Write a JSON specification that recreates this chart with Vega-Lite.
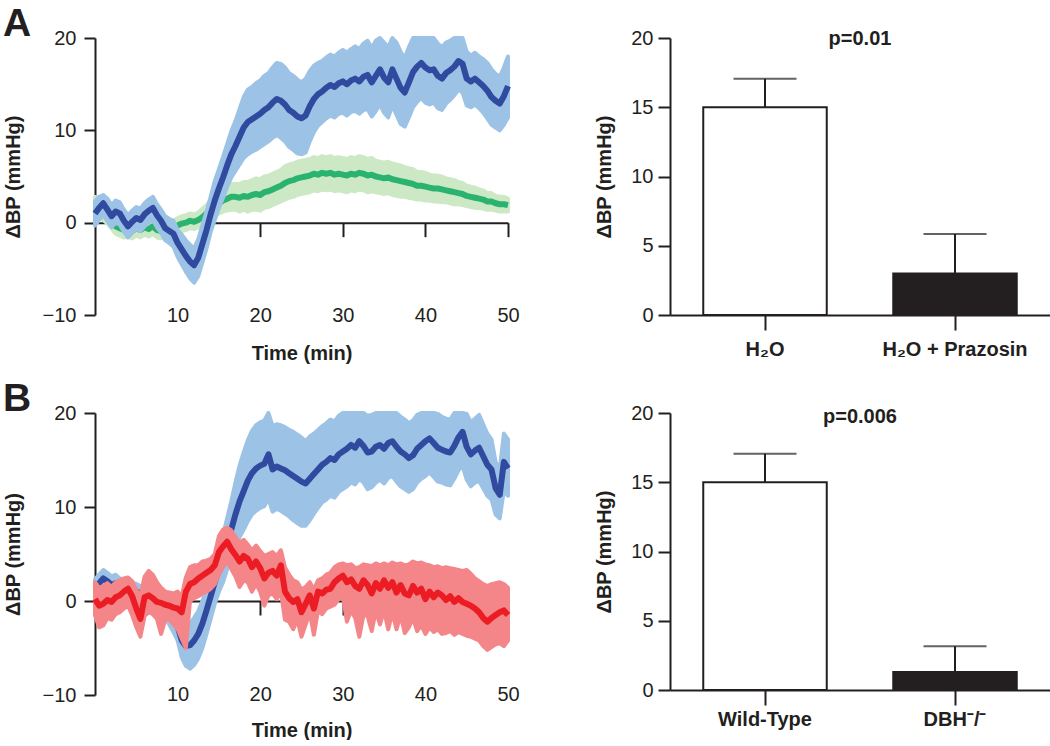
{
"$schema":"https://vega.github.io/schema/vega-lite/v6.json",
"background":"white",
"padding":{"left":3,"top":5,"right":0,"bottom":0},
"bounds":"flush",
"columns":2,
"spacing":{"row":98,"column":162},
"config":{
 "view":{"stroke":null},
 "font":"Liberation Sans",
 "axis":{"grid":false,"domainColor":"#231f20","domainWidth":2,"tickColor":"#231f20","tickWidth":2,"labelFont":"Liberation Sans","labelFontSize":20,"labelColor":"#231f20","titleFont":"Liberation Sans","titleFontSize":20,"titleFontWeight":"bold","titleColor":"#231f20","labelFlush":false},
 "title":{"font":"Liberation Sans","color":"#231f20"}
},
"datasets":{
"tsA":[
{"s":"b","t":0,"m":1.0,"lo":-0.3,"hi":2.3},{"s":"b","t":0.5,"m":1.6,"lo":0.3,"hi":2.8},{"s":"b","t":1,"m":2.1,"lo":0.8,"hi":3.0},{"s":"b","t":1.5,"m":1.4,"lo":0.2,"hi":2.6},{"s":"b","t":2,"m":0.7,"lo":-0.5,"hi":1.9},{"s":"b","t":2.5,"m":1.2,"lo":0.0,"hi":2.4},{"s":"b","t":3,"m":1.0,"lo":-0.2,"hi":2.2},{"s":"b","t":3.5,"m":0.2,"lo":-1.0,"hi":1.4},{"s":"b","t":4,"m":-0.4,"lo":-1.6,"hi":0.8},{"s":"b","t":4.5,"m":0.1,"lo":-1.1,"hi":1.3},{"s":"b","t":5,"m":0.5,"lo":-0.7,"hi":1.7},{"s":"b","t":5.5,"m":0.3,"lo":-0.9,"hi":1.5},{"s":"b","t":6,"m":0.9,"lo":-0.4,"hi":2.1},{"s":"b","t":6.5,"m":1.3,"lo":0.0,"hi":2.5},{"s":"b","t":7,"m":1.6,"lo":0.3,"hi":2.8},{"s":"b","t":7.5,"m":0.8,"lo":-0.5,"hi":2.0},{"s":"b","t":8,"m":0.2,"lo":-1.1,"hi":1.4},{"s":"b","t":8.5,"m":-0.6,"lo":-1.9,"hi":0.7},{"s":"b","t":9,"m":-0.9,"lo":-2.2,"hi":0.4},{"s":"b","t":9.5,"m":-1.2,"lo":-2.6,"hi":0.2},{"s":"b","t":10,"m":-2.2,"lo":-3.7,"hi":-0.8},{"s":"b","t":10.5,"m":-2.9,"lo":-4.5,"hi":-1.3},{"s":"b","t":11,"m":-3.6,"lo":-5.3,"hi":-1.9},{"s":"b","t":11.5,"m":-4.2,"lo":-6.0,"hi":-2.4},{"s":"b","t":12,"m":-4.6,"lo":-6.5,"hi":-2.8},{"s":"b","t":12.5,"m":-3.8,"lo":-5.8,"hi":-1.8},{"s":"b","t":13,"m":-2.3,"lo":-4.3,"hi":-0.3},{"s":"b","t":13.5,"m":-0.8,"lo":-2.8,"hi":1.2},{"s":"b","t":14,"m":0.9,"lo":-1.0,"hi":2.8},{"s":"b","t":14.5,"m":2.4,"lo":0.3,"hi":4.5},{"s":"b","t":15,"m":3.7,"lo":1.6,"hi":5.8},{"s":"b","t":15.5,"m":4.9,"lo":2.7,"hi":7.1},{"s":"b","t":16,"m":6.2,"lo":3.9,"hi":8.5},{"s":"b","t":16.5,"m":7.4,"lo":4.9,"hi":9.9},{"s":"b","t":17,"m":8.3,"lo":5.6,"hi":11.0},{"s":"b","t":17.5,"m":9.3,"lo":6.3,"hi":12.3},{"s":"b","t":18,"m":10.3,"lo":7.0,"hi":13.6},{"s":"b","t":18.5,"m":10.9,"lo":7.4,"hi":14.4},{"s":"b","t":19,"m":11.2,"lo":7.7,"hi":14.7},{"s":"b","t":19.5,"m":11.5,"lo":7.9,"hi":15.1},{"s":"b","t":20,"m":11.8,"lo":8.2,"hi":15.4},{"s":"b","t":20.5,"m":12.2,"lo":8.5,"hi":15.9},{"s":"b","t":21,"m":12.5,"lo":8.8,"hi":16.2},{"s":"b","t":21.5,"m":13.0,"lo":9.2,"hi":16.8},{"s":"b","t":22,"m":13.4,"lo":9.5,"hi":17.3},{"s":"b","t":22.5,"m":13.2,"lo":9.2,"hi":17.2},{"s":"b","t":23,"m":12.8,"lo":8.8,"hi":16.8},{"s":"b","t":23.5,"m":12.2,"lo":8.2,"hi":16.2},{"s":"b","t":24,"m":11.9,"lo":7.9,"hi":15.9},{"s":"b","t":24.5,"m":11.5,"lo":7.5,"hi":15.5},{"s":"b","t":25,"m":11.3,"lo":7.4,"hi":15.2},{"s":"b","t":25.5,"m":11.6,"lo":7.6,"hi":15.6},{"s":"b","t":26,"m":12.6,"lo":8.8,"hi":16.4},{"s":"b","t":26.5,"m":13.4,"lo":9.8,"hi":17.0},{"s":"b","t":27,"m":13.9,"lo":10.5,"hi":17.3},{"s":"b","t":27.5,"m":14.2,"lo":10.9,"hi":17.5},{"s":"b","t":28,"m":14.6,"lo":11.3,"hi":17.9},{"s":"b","t":28.5,"m":14.9,"lo":11.6,"hi":18.2},{"s":"b","t":29,"m":14.7,"lo":11.4,"hi":18.0},{"s":"b","t":29.5,"m":15.1,"lo":11.8,"hi":18.4},{"s":"b","t":30,"m":15.3,"lo":11.9,"hi":18.7},{"s":"b","t":30.5,"m":15.0,"lo":11.6,"hi":18.4},{"s":"b","t":31,"m":15.4,"lo":12.0,"hi":18.8},{"s":"b","t":31.5,"m":15.6,"lo":12.1,"hi":19.1},{"s":"b","t":32,"m":15.3,"lo":11.8,"hi":18.8},{"s":"b","t":32.5,"m":15.8,"lo":12.2,"hi":19.4},{"s":"b","t":33,"m":16.0,"lo":12.3,"hi":19.7},{"s":"b","t":33.5,"m":15.2,"lo":11.5,"hi":18.9},{"s":"b","t":34,"m":15.9,"lo":12.1,"hi":19.7},{"s":"b","t":34.5,"m":16.6,"lo":12.8,"hi":20.0},{"s":"b","t":35,"m":15.7,"lo":11.9,"hi":19.5},{"s":"b","t":35.5,"m":15.2,"lo":11.4,"hi":19.0},{"s":"b","t":36,"m":16.6,"lo":12.7,"hi":20.0},{"s":"b","t":36.5,"m":15.6,"lo":11.7,"hi":19.5},{"s":"b","t":37,"m":14.6,"lo":10.7,"hi":18.5},{"s":"b","t":37.5,"m":14.1,"lo":10.4,"hi":17.8},{"s":"b","t":38,"m":15.2,"lo":11.4,"hi":19.0},{"s":"b","t":38.5,"m":16.3,"lo":12.5,"hi":20.0},{"s":"b","t":39,"m":16.9,"lo":13.1,"hi":20.0},{"s":"b","t":39.5,"m":17.3,"lo":13.5,"hi":20.0},{"s":"b","t":40,"m":16.8,"lo":13.0,"hi":20.0},{"s":"b","t":40.5,"m":16.5,"lo":12.8,"hi":20.0},{"s":"b","t":41,"m":16.6,"lo":13.0,"hi":20.0},{"s":"b","t":41.5,"m":15.9,"lo":12.4,"hi":19.4},{"s":"b","t":42,"m":15.6,"lo":12.2,"hi":19.0},{"s":"b","t":42.5,"m":16.2,"lo":12.9,"hi":19.5},{"s":"b","t":43,"m":16.5,"lo":13.3,"hi":19.7},{"s":"b","t":43.5,"m":16.9,"lo":13.8,"hi":20.0},{"s":"b","t":44,"m":17.5,"lo":14.4,"hi":20.0},{"s":"b","t":44.5,"m":17.2,"lo":14.1,"hi":20.0},{"s":"b","t":45,"m":15.6,"lo":12.7,"hi":18.5},{"s":"b","t":45.5,"m":15.3,"lo":12.5,"hi":18.1},{"s":"b","t":46,"m":15.6,"lo":12.8,"hi":18.4},{"s":"b","t":46.5,"m":15.2,"lo":12.4,"hi":18.0},{"s":"b","t":47,"m":14.8,"lo":11.9,"hi":17.7},{"s":"b","t":47.5,"m":14.3,"lo":11.3,"hi":17.3},{"s":"b","t":48,"m":13.6,"lo":10.6,"hi":16.6},{"s":"b","t":48.5,"m":13.2,"lo":10.3,"hi":16.1},{"s":"b","t":49,"m":12.9,"lo":10.0,"hi":15.8},{"s":"b","t":49.5,"m":13.7,"lo":10.6,"hi":16.8},{"s":"b","t":50,"m":14.8,"lo":11.4,"hi":18.0},
{"s":"g","t":0,"m":2.0,"lo":1.2,"hi":2.8},{"s":"g","t":0.5,"m":1.6,"lo":0.8,"hi":2.4},{"s":"g","t":1,"m":1.1,"lo":0.3,"hi":1.9},{"s":"g","t":1.5,"m":0.7,"lo":-0.1,"hi":1.5},{"s":"g","t":2,"m":0.2,"lo":-0.6,"hi":1.0},{"s":"g","t":2.5,"m":-0.4,"lo":-1.2,"hi":0.4},{"s":"g","t":3,"m":-0.6,"lo":-1.4,"hi":0.2},{"s":"g","t":3.5,"m":-0.8,"lo":-1.6,"hi":0.0},{"s":"g","t":4,"m":-0.7,"lo":-1.5,"hi":0.1},{"s":"g","t":4.5,"m":-0.9,"lo":-1.7,"hi":-0.1},{"s":"g","t":5,"m":-0.6,"lo":-1.4,"hi":0.2},{"s":"g","t":5.5,"m":-0.8,"lo":-1.6,"hi":0.0},{"s":"g","t":6,"m":-0.5,"lo":-1.3,"hi":0.3},{"s":"g","t":6.5,"m":-0.7,"lo":-1.5,"hi":0.1},{"s":"g","t":7,"m":-0.4,"lo":-1.2,"hi":0.4},{"s":"g","t":7.5,"m":-0.8,"lo":-1.6,"hi":0.0},{"s":"g","t":8,"m":-0.9,"lo":-1.7,"hi":-0.1},{"s":"g","t":8.5,"m":-0.6,"lo":-1.4,"hi":0.2},{"s":"g","t":9,"m":-0.8,"lo":-1.6,"hi":0.0},{"s":"g","t":9.5,"m":-0.6,"lo":-1.4,"hi":0.2},{"s":"g","t":10,"m":-0.3,"lo":-1.1,"hi":0.5},{"s":"g","t":10.5,"m":-0.1,"lo":-0.9,"hi":0.7},{"s":"g","t":11,"m":0.0,"lo":-0.8,"hi":0.8},{"s":"g","t":11.5,"m":0.2,"lo":-0.6,"hi":1.0},{"s":"g","t":12,"m":0.1,"lo":-0.7,"hi":0.9},{"s":"g","t":12.5,"m":0.3,"lo":-0.5,"hi":1.1},{"s":"g","t":13,"m":0.6,"lo":-0.3,"hi":1.5},{"s":"g","t":13.5,"m":1.0,"lo":0.1,"hi":1.9},{"s":"g","t":14,"m":1.4,"lo":0.4,"hi":2.4},{"s":"g","t":14.5,"m":1.8,"lo":0.7,"hi":2.9},{"s":"g","t":15,"m":2.1,"lo":1.0,"hi":3.2},{"s":"g","t":15.5,"m":2.4,"lo":1.2,"hi":3.6},{"s":"g","t":16,"m":2.6,"lo":1.3,"hi":3.9},{"s":"g","t":16.5,"m":2.8,"lo":1.4,"hi":4.2},{"s":"g","t":17,"m":2.8,"lo":1.4,"hi":4.2},{"s":"g","t":17.5,"m":2.7,"lo":1.2,"hi":4.2},{"s":"g","t":18,"m":2.9,"lo":1.4,"hi":4.4},{"s":"g","t":18.5,"m":2.8,"lo":1.2,"hi":4.4},{"s":"g","t":19,"m":3.0,"lo":1.4,"hi":4.6},{"s":"g","t":19.5,"m":3.1,"lo":1.4,"hi":4.8},{"s":"g","t":20,"m":3.0,"lo":1.3,"hi":4.7},{"s":"g","t":20.5,"m":3.3,"lo":1.6,"hi":5.0},{"s":"g","t":21,"m":3.4,"lo":1.7,"hi":5.1},{"s":"g","t":21.5,"m":3.6,"lo":1.9,"hi":5.3},{"s":"g","t":22,"m":3.8,"lo":2.1,"hi":5.5},{"s":"g","t":22.5,"m":4.0,"lo":2.3,"hi":5.7},{"s":"g","t":23,"m":4.3,"lo":2.5,"hi":6.1},{"s":"g","t":23.5,"m":4.5,"lo":2.7,"hi":6.3},{"s":"g","t":24,"m":4.6,"lo":2.8,"hi":6.4},{"s":"g","t":24.5,"m":4.8,"lo":3.0,"hi":6.6},{"s":"g","t":25,"m":4.9,"lo":3.1,"hi":6.7},{"s":"g","t":25.5,"m":5.0,"lo":3.2,"hi":6.8},{"s":"g","t":26,"m":5.1,"lo":3.3,"hi":6.9},{"s":"g","t":26.5,"m":5.3,"lo":3.5,"hi":7.1},{"s":"g","t":27,"m":5.2,"lo":3.4,"hi":7.0},{"s":"g","t":27.5,"m":5.4,"lo":3.6,"hi":7.2},{"s":"g","t":28,"m":5.3,"lo":3.5,"hi":7.1},{"s":"g","t":28.5,"m":5.4,"lo":3.6,"hi":7.2},{"s":"g","t":29,"m":5.2,"lo":3.4,"hi":7.0},{"s":"g","t":29.5,"m":5.3,"lo":3.5,"hi":7.1},{"s":"g","t":30,"m":5.2,"lo":3.4,"hi":7.0},{"s":"g","t":30.5,"m":5.1,"lo":3.3,"hi":6.9},{"s":"g","t":31,"m":5.3,"lo":3.5,"hi":7.1},{"s":"g","t":31.5,"m":5.2,"lo":3.4,"hi":7.0},{"s":"g","t":32,"m":5.4,"lo":3.6,"hi":7.2},{"s":"g","t":32.5,"m":5.3,"lo":3.5,"hi":7.1},{"s":"g","t":33,"m":5.1,"lo":3.3,"hi":6.9},{"s":"g","t":33.5,"m":5.2,"lo":3.4,"hi":7.0},{"s":"g","t":34,"m":5.0,"lo":3.3,"hi":6.7},{"s":"g","t":34.5,"m":4.9,"lo":3.2,"hi":6.6},{"s":"g","t":35,"m":4.8,"lo":3.1,"hi":6.5},{"s":"g","t":35.5,"m":4.9,"lo":3.2,"hi":6.6},{"s":"g","t":36,"m":4.7,"lo":3.0,"hi":6.4},{"s":"g","t":36.5,"m":4.6,"lo":2.9,"hi":6.3},{"s":"g","t":37,"m":4.5,"lo":2.8,"hi":6.2},{"s":"g","t":37.5,"m":4.4,"lo":2.8,"hi":6.0},{"s":"g","t":38,"m":4.3,"lo":2.7,"hi":5.9},{"s":"g","t":38.5,"m":4.2,"lo":2.6,"hi":5.8},{"s":"g","t":39,"m":4.0,"lo":2.5,"hi":5.5},{"s":"g","t":39.5,"m":4.0,"lo":2.5,"hi":5.5},{"s":"g","t":40,"m":3.9,"lo":2.4,"hi":5.4},{"s":"g","t":40.5,"m":3.8,"lo":2.4,"hi":5.2},{"s":"g","t":41,"m":3.7,"lo":2.3,"hi":5.1},{"s":"g","t":41.5,"m":3.7,"lo":2.3,"hi":5.1},{"s":"g","t":42,"m":3.6,"lo":2.2,"hi":5.0},{"s":"g","t":42.5,"m":3.5,"lo":2.2,"hi":4.8},{"s":"g","t":43,"m":3.4,"lo":2.1,"hi":4.7},{"s":"g","t":43.5,"m":3.3,"lo":2.0,"hi":4.6},{"s":"g","t":44,"m":3.2,"lo":2.0,"hi":4.4},{"s":"g","t":44.5,"m":3.1,"lo":1.9,"hi":4.3},{"s":"g","t":45,"m":2.9,"lo":1.8,"hi":4.0},{"s":"g","t":45.5,"m":2.8,"lo":1.7,"hi":3.9},{"s":"g","t":46,"m":2.7,"lo":1.6,"hi":3.8},{"s":"g","t":46.5,"m":2.6,"lo":1.6,"hi":3.6},{"s":"g","t":47,"m":2.5,"lo":1.5,"hi":3.5},{"s":"g","t":47.5,"m":2.3,"lo":1.4,"hi":3.2},{"s":"g","t":48,"m":2.3,"lo":1.4,"hi":3.2},{"s":"g","t":48.5,"m":2.1,"lo":1.3,"hi":2.9},{"s":"g","t":49,"m":2.0,"lo":1.2,"hi":2.8},{"s":"g","t":49.5,"m":2.0,"lo":1.2,"hi":2.8},{"s":"g","t":50,"m":1.9,"lo":1.2,"hi":2.6}
],
"tsB":[
{"s":"b","t":0,"m":1.5,"lo":0.7,"hi":2.3},{"s":"b","t":0.5,"m":1.9,"lo":1.1,"hi":2.8},{"s":"b","t":1,"m":2.4,"lo":1.5,"hi":3.3},{"s":"b","t":1.5,"m":2.1,"lo":1.3,"hi":3.0},{"s":"b","t":2,"m":1.7,"lo":0.9,"hi":2.6},{"s":"b","t":2.5,"m":1.9,"lo":1.1,"hi":2.8},{"s":"b","t":3,"m":1.5,"lo":0.7,"hi":2.4},{"s":"b","t":3.5,"m":1.3,"lo":0.5,"hi":2.2},{"s":"b","t":4,"m":1.4,"lo":0.6,"hi":2.3},{"s":"b","t":4.5,"m":1.2,"lo":0.4,"hi":2.0},{"s":"b","t":5,"m":1.0,"lo":0.2,"hi":1.8},{"s":"b","t":5.5,"m":0.8,"lo":0.0,"hi":1.6},{"s":"b","t":6,"m":0.5,"lo":-0.3,"hi":1.3},{"s":"b","t":6.5,"m":0.2,"lo":-0.6,"hi":1.0},{"s":"b","t":7,"m":0.1,"lo":-0.7,"hi":0.9},{"s":"b","t":7.5,"m":-0.1,"lo":-0.9,"hi":0.7},{"s":"b","t":8,"m":-0.4,"lo":-1.3,"hi":0.5},{"s":"b","t":8.5,"m":-0.8,"lo":-1.8,"hi":0.2},{"s":"b","t":9,"m":-1.4,"lo":-2.5,"hi":-0.3},{"s":"b","t":9.5,"m":-2.0,"lo":-3.3,"hi":-0.7},{"s":"b","t":10,"m":-2.7,"lo":-4.2,"hi":-1.2},{"s":"b","t":10.5,"m":-4.2,"lo":-6.0,"hi":-2.4},{"s":"b","t":11,"m":-4.8,"lo":-6.9,"hi":-2.7},{"s":"b","t":11.5,"m":-4.7,"lo":-7.2,"hi":-2.4},{"s":"b","t":12,"m":-4.2,"lo":-6.8,"hi":-1.8},{"s":"b","t":12.5,"m":-3.5,"lo":-6.1,"hi":-1.1},{"s":"b","t":13,"m":-2.4,"lo":-5.0,"hi":0.0},{"s":"b","t":13.5,"m":-1.0,"lo":-3.5,"hi":1.3},{"s":"b","t":14,"m":0.5,"lo":-1.9,"hi":2.6},{"s":"b","t":14.5,"m":2.0,"lo":-0.3,"hi":4.0},{"s":"b","t":15,"m":3.4,"lo":1.0,"hi":5.6},{"s":"b","t":15.5,"m":4.6,"lo":2.0,"hi":7.0},{"s":"b","t":16,"m":6.2,"lo":3.4,"hi":8.8},{"s":"b","t":16.5,"m":7.6,"lo":4.5,"hi":10.6},{"s":"b","t":17,"m":9.2,"lo":5.8,"hi":12.6},{"s":"b","t":17.5,"m":10.6,"lo":6.8,"hi":14.4},{"s":"b","t":18,"m":11.7,"lo":7.6,"hi":15.8},{"s":"b","t":18.5,"m":12.8,"lo":8.5,"hi":17.1},{"s":"b","t":19,"m":13.6,"lo":9.2,"hi":18.1},{"s":"b","t":19.5,"m":14.1,"lo":9.6,"hi":18.7},{"s":"b","t":20,"m":14.4,"lo":9.9,"hi":19.0},{"s":"b","t":20.5,"m":14.6,"lo":10.1,"hi":19.2},{"s":"b","t":21,"m":15.6,"lo":10.9,"hi":20.0},{"s":"b","t":21.5,"m":14.0,"lo":9.5,"hi":18.6},{"s":"b","t":22,"m":14.3,"lo":9.8,"hi":18.8},{"s":"b","t":22.5,"m":14.1,"lo":9.6,"hi":18.7},{"s":"b","t":23,"m":13.9,"lo":9.3,"hi":18.5},{"s":"b","t":23.5,"m":13.6,"lo":9.0,"hi":18.2},{"s":"b","t":24,"m":13.3,"lo":8.6,"hi":18.0},{"s":"b","t":24.5,"m":13.0,"lo":8.3,"hi":17.7},{"s":"b","t":25,"m":12.7,"lo":8.0,"hi":17.4},{"s":"b","t":25.5,"m":12.5,"lo":8.0,"hi":17.0},{"s":"b","t":26,"m":13.0,"lo":8.6,"hi":17.5},{"s":"b","t":26.5,"m":13.5,"lo":9.3,"hi":17.8},{"s":"b","t":27,"m":14.0,"lo":9.9,"hi":18.2},{"s":"b","t":27.5,"m":14.5,"lo":10.5,"hi":18.6},{"s":"b","t":28,"m":14.8,"lo":10.8,"hi":18.9},{"s":"b","t":28.5,"m":15.2,"lo":11.2,"hi":19.3},{"s":"b","t":29,"m":15.0,"lo":11.0,"hi":19.1},{"s":"b","t":29.5,"m":15.6,"lo":11.6,"hi":19.7},{"s":"b","t":30,"m":15.9,"lo":11.9,"hi":20.0},{"s":"b","t":30.5,"m":16.2,"lo":12.2,"hi":20.0},{"s":"b","t":31,"m":16.6,"lo":12.6,"hi":20.0},{"s":"b","t":31.5,"m":16.3,"lo":12.4,"hi":20.0},{"s":"b","t":32,"m":17.0,"lo":13.0,"hi":20.0},{"s":"b","t":32.5,"m":16.5,"lo":12.6,"hi":20.0},{"s":"b","t":33,"m":15.8,"lo":11.9,"hi":19.7},{"s":"b","t":33.5,"m":15.9,"lo":12.1,"hi":19.8},{"s":"b","t":34,"m":16.4,"lo":12.6,"hi":20.0},{"s":"b","t":34.5,"m":16.6,"lo":12.9,"hi":20.0},{"s":"b","t":35,"m":16.2,"lo":12.5,"hi":20.0},{"s":"b","t":35.5,"m":16.8,"lo":13.1,"hi":20.0},{"s":"b","t":36,"m":17.0,"lo":13.3,"hi":20.0},{"s":"b","t":36.5,"m":16.4,"lo":12.7,"hi":20.0},{"s":"b","t":37,"m":15.9,"lo":12.2,"hi":19.6},{"s":"b","t":37.5,"m":15.6,"lo":11.9,"hi":19.3},{"s":"b","t":38,"m":15.2,"lo":11.6,"hi":18.9},{"s":"b","t":38.5,"m":15.5,"lo":11.9,"hi":19.2},{"s":"b","t":39,"m":16.2,"lo":12.6,"hi":19.8},{"s":"b","t":39.5,"m":16.6,"lo":13.0,"hi":20.0},{"s":"b","t":40,"m":17.0,"lo":13.3,"hi":20.0},{"s":"b","t":40.5,"m":17.3,"lo":13.7,"hi":20.0},{"s":"b","t":41,"m":16.8,"lo":13.2,"hi":20.0},{"s":"b","t":41.5,"m":16.3,"lo":12.7,"hi":19.9},{"s":"b","t":42,"m":16.1,"lo":12.6,"hi":19.6},{"s":"b","t":42.5,"m":15.9,"lo":12.4,"hi":19.4},{"s":"b","t":43,"m":15.8,"lo":12.3,"hi":19.3},{"s":"b","t":43.5,"m":16.5,"lo":13.0,"hi":20.0},{"s":"b","t":44,"m":17.4,"lo":13.9,"hi":20.0},{"s":"b","t":44.5,"m":18.0,"lo":14.4,"hi":20.0},{"s":"b","t":45,"m":16.4,"lo":12.9,"hi":19.9},{"s":"b","t":45.5,"m":15.6,"lo":12.2,"hi":19.0},{"s":"b","t":46,"m":16.0,"lo":12.6,"hi":19.4},{"s":"b","t":46.5,"m":16.3,"lo":12.8,"hi":19.8},{"s":"b","t":47,"m":15.4,"lo":12.0,"hi":18.8},{"s":"b","t":47.5,"m":14.5,"lo":11.2,"hi":17.8},{"s":"b","t":48,"m":14.0,"lo":10.8,"hi":17.2},{"s":"b","t":48.5,"m":12.0,"lo":9.2,"hi":14.8},{"s":"b","t":49,"m":11.3,"lo":8.8,"hi":14.0},{"s":"b","t":49.5,"m":14.8,"lo":11.8,"hi":17.8},{"s":"b","t":50,"m":14.1,"lo":11.2,"hi":17.2},
{"s":"r","t":0,"m":0.2,"lo":-1.5,"hi":2.0},{"s":"r","t":0.5,"m":-0.5,"lo":-2.8,"hi":1.4},{"s":"r","t":1,"m":-0.3,"lo":-2.6,"hi":1.6},{"s":"r","t":1.5,"m":0.1,"lo":-1.8,"hi":1.9},{"s":"r","t":2,"m":-0.1,"lo":-2.0,"hi":1.5},{"s":"r","t":2.5,"m":0.4,"lo":-1.4,"hi":2.0},{"s":"r","t":3,"m":0.6,"lo":-1.2,"hi":2.2},{"s":"r","t":3.5,"m":1.0,"lo":-0.8,"hi":2.4},{"s":"r","t":4,"m":1.3,"lo":-0.5,"hi":2.5},{"s":"r","t":4.5,"m":0.5,"lo":-1.5,"hi":2.1},{"s":"r","t":5,"m":-0.8,"lo":-2.8,"hi":1.2},{"s":"r","t":5.5,"m":-1.9,"lo":-3.8,"hi":0.5},{"s":"r","t":6,"m":0.4,"lo":-1.6,"hi":2.6},{"s":"r","t":6.5,"m":0.6,"lo":-1.2,"hi":3.2},{"s":"r","t":7,"m":0.3,"lo":-1.4,"hi":2.8},{"s":"r","t":7.5,"m":-0.1,"lo":-1.9,"hi":2.0},{"s":"r","t":8,"m":-0.2,"lo":-3.5,"hi":1.4},{"s":"r","t":8.5,"m":-0.4,"lo":-2.0,"hi":1.0},{"s":"r","t":9,"m":-0.5,"lo":-2.0,"hi":0.9},{"s":"r","t":9.5,"m":-0.7,"lo":-2.5,"hi":0.8},{"s":"r","t":10,"m":-0.8,"lo":-3.0,"hi":1.0},{"s":"r","t":10.5,"m":-1.2,"lo":-4.0,"hi":0.5},{"s":"r","t":11,"m":1.0,"lo":-5.0,"hi":2.5},{"s":"r","t":11.5,"m":1.8,"lo":0.0,"hi":3.6},{"s":"r","t":12,"m":2.0,"lo":0.3,"hi":3.8},{"s":"r","t":12.5,"m":2.4,"lo":0.5,"hi":3.8},{"s":"r","t":13,"m":2.7,"lo":0.8,"hi":4.2},{"s":"r","t":13.5,"m":3.0,"lo":1.0,"hi":4.3},{"s":"r","t":14,"m":3.3,"lo":1.3,"hi":4.5},{"s":"r","t":14.5,"m":3.8,"lo":1.8,"hi":5.0},{"s":"r","t":15,"m":5.2,"lo":2.8,"hi":6.9},{"s":"r","t":15.5,"m":5.8,"lo":3.6,"hi":7.6},{"s":"r","t":16,"m":6.3,"lo":4.2,"hi":7.8},{"s":"r","t":16.5,"m":5.5,"lo":3.4,"hi":7.5},{"s":"r","t":17,"m":4.9,"lo":2.6,"hi":6.8},{"s":"r","t":17.5,"m":4.2,"lo":1.5,"hi":6.2},{"s":"r","t":18,"m":4.8,"lo":2.2,"hi":6.5},{"s":"r","t":18.5,"m":4.5,"lo":2.0,"hi":6.0},{"s":"r","t":19,"m":3.6,"lo":1.0,"hi":5.4},{"s":"r","t":19.5,"m":4.2,"lo":1.8,"hi":5.9},{"s":"r","t":20,"m":3.5,"lo":1.0,"hi":5.3},{"s":"r","t":20.5,"m":2.4,"lo":-0.5,"hi":4.8},{"s":"r","t":21,"m":3.0,"lo":0.6,"hi":5.0},{"s":"r","t":21.5,"m":3.2,"lo":0.8,"hi":5.2},{"s":"r","t":22,"m":2.7,"lo":0.2,"hi":4.8},{"s":"r","t":22.5,"m":3.8,"lo":1.0,"hi":5.4},{"s":"r","t":23,"m":1.0,"lo":-2.0,"hi":3.6},{"s":"r","t":23.5,"m":0.3,"lo":-2.2,"hi":2.8},{"s":"r","t":24,"m":-0.1,"lo":-3.0,"hi":2.2},{"s":"r","t":24.5,"m":0.2,"lo":-2.0,"hi":2.0},{"s":"r","t":25,"m":-1.2,"lo":-3.8,"hi":1.2},{"s":"r","t":25.5,"m":-0.3,"lo":-2.5,"hi":1.5},{"s":"r","t":26,"m":0.6,"lo":-1.2,"hi":2.0},{"s":"r","t":26.5,"m":-0.8,"lo":-3.6,"hi":1.2},{"s":"r","t":27,"m":1.0,"lo":-1.0,"hi":2.2},{"s":"r","t":27.5,"m":0.8,"lo":-1.4,"hi":2.4},{"s":"r","t":28,"m":1.2,"lo":-0.8,"hi":2.8},{"s":"r","t":28.5,"m":1.3,"lo":-0.6,"hi":3.0},{"s":"r","t":29,"m":2.0,"lo":-0.4,"hi":3.6},{"s":"r","t":29.5,"m":2.4,"lo":0.2,"hi":3.9},{"s":"r","t":30,"m":2.7,"lo":0.6,"hi":4.0},{"s":"r","t":30.5,"m":2.0,"lo":-2.2,"hi":3.8},{"s":"r","t":31,"m":2.3,"lo":-1.0,"hi":3.9},{"s":"r","t":31.5,"m":1.6,"lo":-1.8,"hi":3.5},{"s":"r","t":32,"m":1.3,"lo":-3.8,"hi":3.6},{"s":"r","t":32.5,"m":2.2,"lo":-1.5,"hi":3.9},{"s":"r","t":33,"m":1.7,"lo":-1.6,"hi":3.8},{"s":"r","t":33.5,"m":0.8,"lo":-3.2,"hi":3.7},{"s":"r","t":34,"m":1.9,"lo":-1.0,"hi":4.0},{"s":"r","t":34.5,"m":1.3,"lo":-2.5,"hi":3.8},{"s":"r","t":35,"m":2.2,"lo":-1.0,"hi":4.0},{"s":"r","t":35.5,"m":1.4,"lo":-3.0,"hi":3.8},{"s":"r","t":36,"m":2.0,"lo":-1.2,"hi":4.1},{"s":"r","t":36.5,"m":0.9,"lo":-3.0,"hi":3.9},{"s":"r","t":37,"m":1.7,"lo":-1.5,"hi":4.0},{"s":"r","t":37.5,"m":0.8,"lo":-3.4,"hi":3.8},{"s":"r","t":38,"m":0.6,"lo":-2.8,"hi":3.9},{"s":"r","t":38.5,"m":1.6,"lo":-1.8,"hi":4.2},{"s":"r","t":39,"m":0.9,"lo":-3.2,"hi":4.0},{"s":"r","t":39.5,"m":1.3,"lo":-2.6,"hi":4.1},{"s":"r","t":40,"m":0.2,"lo":-3.5,"hi":3.9},{"s":"r","t":40.5,"m":1.0,"lo":-2.8,"hi":3.8},{"s":"r","t":41,"m":0.4,"lo":-3.3,"hi":3.6},{"s":"r","t":41.5,"m":0.9,"lo":-3.0,"hi":3.7},{"s":"r","t":42,"m":0.6,"lo":-3.5,"hi":3.5},{"s":"r","t":42.5,"m":0.1,"lo":-3.4,"hi":3.6},{"s":"r","t":43,"m":0.5,"lo":-3.2,"hi":3.5},{"s":"r","t":43.5,"m":-0.1,"lo":-3.6,"hi":3.4},{"s":"r","t":44,"m":0.3,"lo":-3.3,"hi":3.3},{"s":"r","t":44.5,"m":-0.1,"lo":-3.5,"hi":3.2},{"s":"r","t":45,"m":-0.3,"lo":-3.7,"hi":3.3},{"s":"r","t":45.5,"m":-0.5,"lo":-3.8,"hi":2.9},{"s":"r","t":46,"m":-0.8,"lo":-4.0,"hi":2.4},{"s":"r","t":46.5,"m":-1.2,"lo":-4.2,"hi":2.1},{"s":"r","t":47,"m":-1.8,"lo":-4.8,"hi":1.8},{"s":"r","t":47.5,"m":-2.2,"lo":-5.2,"hi":1.6},{"s":"r","t":48,"m":-1.8,"lo":-4.9,"hi":1.8},{"s":"r","t":48.5,"m":-1.5,"lo":-4.6,"hi":1.9},{"s":"r","t":49,"m":-1.2,"lo":-4.5,"hi":2.0},{"s":"r","t":49.5,"m":-1.0,"lo":-4.8,"hi":1.8},{"s":"r","t":50,"m":-1.5,"lo":-4.2,"hi":1.4}
],
"barA":[{"g":"H₂O","v":15,"e":17.05},{"g":"H₂O + Prazosin","v":3,"e":5.85}],
"barB":[{"g":"Wild-Type","v":15,"e":17.06},{"g":"DBH⁻/⁻","v":1.3,"e":3.15}]
},
"concat":[
 {"width":413,"height":277,
  "title":{"text":"A","anchor":"start","frame":"bounds","fontSize":39,"fontWeight":"bold","offset":-16},
  "data":{"name":"tsA"},
  "encoding":{"x":{"field":"t","type":"quantitative","scale":{"domain":[0,50],"nice":false,"zero":false},"axis":{"values":[10,20,30,40,50],"offset":-92.33,"tickSize":14,"labelPadding":69,"title":"Time (min)","titlePadding":18}}},
  "layer":[
   {"transform":[{"filter":"datum.s=='g'"}],"mark":{"type":"area","color":"#cde8c5","stroke":"#cde8c5","strokeWidth":4,"strokeJoin":"round"},"encoding":{"y":{"field":"lo","type":"quantitative","title":"ΔBP (mmHg)","scale":{"domain":[-10,20],"nice":false},"axis":{"values":[-10,0,10,20],"tickSize":11,"labelPadding":8,"titlePadding":19}},"y2":{"field":"hi"}}},
   {"transform":[{"filter":"datum.s=='g'"}],"mark":{"type":"line","color":"#2ab36f","strokeWidth":6,"strokeJoin":"round"},"encoding":{"y":{"field":"m","type":"quantitative","title":"ΔBP (mmHg)"}}},
   {"transform":[{"filter":"datum.s=='b'"}],"mark":{"type":"area","color":"#9cc2e6","stroke":"#9cc2e6","strokeWidth":4,"strokeJoin":"round"},"encoding":{"y":{"field":"lo","type":"quantitative","title":"ΔBP (mmHg)"},"y2":{"field":"hi"}}},
   {"transform":[{"filter":"datum.s=='b'"}],"mark":{"type":"line","color":"#2f4a9e","strokeWidth":6,"strokeJoin":"round"},"encoding":{"y":{"field":"m","type":"quantitative","title":"ΔBP (mmHg)"}}}
  ]},
 {"width":380,"height":277,
  "title":{"text":"p=0.01","fontSize":20,"fontWeight":"bold","anchor":"middle","baseline":"alphabetic","offset":-37},
  "data":{"name":"barA"},
  "encoding":{"x":{"field":"g","type":"nominal","sort":null,"scale":{"paddingInner":0.35,"paddingOuter":0.175},"axis":{"title":null,"labelAngle":0,"tickSize":15,"labelPadding":9,"labelFontWeight":"bold"}}},
  "layer":[
   {"mark":{"type":"bar","stroke":"#231f20","strokeWidth":2},"encoding":{"y":{"field":"v","type":"quantitative","title":"ΔBP  (mmHg)","scale":{"domain":[0,20],"nice":false},"axis":{"values":[0,5,10,15,20],"tickSize":12,"labelPadding":5,"titlePadding":16}},"fill":{"condition":{"test":"datum.v > 10","value":"#ffffff"},"value":"#231f20"}}},
   {"mark":{"type":"rule","color":"#231f20","strokeWidth":2},"encoding":{"y":{"field":"v","type":"quantitative","title":"ΔBP  (mmHg)"},"y2":{"field":"e"}}},
   {"mark":{"type":"tick","color":"#231f20","thickness":2,"size":63,"orient":"horizontal"},"encoding":{"y":{"field":"e","type":"quantitative","title":"ΔBP  (mmHg)"}}}
  ]},
 {"width":413,"height":282,
  "title":{"text":"B","anchor":"start","frame":"bounds","fontSize":39,"fontWeight":"bold","offset":-16},
  "data":{"name":"tsB"},
  "encoding":{"x":{"field":"t","type":"quantitative","scale":{"domain":[0,50],"nice":false,"zero":false},"axis":{"values":[10,20,30,40,50],"offset":-94,"tickSize":14,"labelPadding":69,"title":"Time (min)","titlePadding":16}}},
  "layer":[
   {"transform":[{"filter":"datum.s=='b'"}],"mark":{"type":"area","color":"#9cc2e6","stroke":"#9cc2e6","strokeWidth":4,"strokeJoin":"round"},"encoding":{"y":{"field":"lo","type":"quantitative","title":"ΔBP (mmHg)","scale":{"domain":[-10,20],"nice":false},"axis":{"values":[-10,0,10,20],"tickSize":11,"labelPadding":8,"titlePadding":19}},"y2":{"field":"hi"}}},
   {"transform":[{"filter":"datum.s=='b'"}],"mark":{"type":"line","color":"#2f4a9e","strokeWidth":6,"strokeJoin":"round"},"encoding":{"y":{"field":"m","type":"quantitative","title":"ΔBP (mmHg)"}}},
   {"transform":[{"filter":"datum.s=='r'"}],"mark":{"type":"area","color":"#f4868a","stroke":"#f4868a","strokeWidth":4,"strokeJoin":"round"},"encoding":{"y":{"field":"lo","type":"quantitative","title":"ΔBP (mmHg)"},"y2":{"field":"hi"}}},
   {"transform":[{"filter":"datum.s=='r'"}],"mark":{"type":"line","color":"#ec1c24","strokeWidth":6,"strokeJoin":"round"},"encoding":{"y":{"field":"m","type":"quantitative","title":"ΔBP (mmHg)"}}}
  ]},
 {"width":380,"height":277,
  "title":{"text":"p=0.006","fontSize":20,"fontWeight":"bold","anchor":"middle","baseline":"alphabetic","offset":-40},
  "data":{"name":"barB"},
  "encoding":{"x":{"field":"g","type":"nominal","sort":null,"scale":{"paddingInner":0.35,"paddingOuter":0.175},"axis":{"title":null,"labelAngle":0,"tickSize":15,"labelPadding":4,"labelFontWeight":"bold"}}},
  "layer":[
   {"mark":{"type":"bar","stroke":"#231f20","strokeWidth":2},"encoding":{"y":{"field":"v","type":"quantitative","title":"ΔBP  (mmHg)","scale":{"domain":[0,20],"nice":false},"axis":{"values":[0,5,10,15,20],"tickSize":12,"labelPadding":5,"titlePadding":16}},"fill":{"condition":{"test":"datum.v > 10","value":"#ffffff"},"value":"#231f20"}}},
   {"mark":{"type":"rule","color":"#231f20","strokeWidth":2},"encoding":{"y":{"field":"v","type":"quantitative","title":"ΔBP  (mmHg)"},"y2":{"field":"e"}}},
   {"mark":{"type":"tick","color":"#231f20","thickness":2,"size":63,"orient":"horizontal"},"encoding":{"y":{"field":"e","type":"quantitative","title":"ΔBP  (mmHg)"}}}
  ]}
]
}
